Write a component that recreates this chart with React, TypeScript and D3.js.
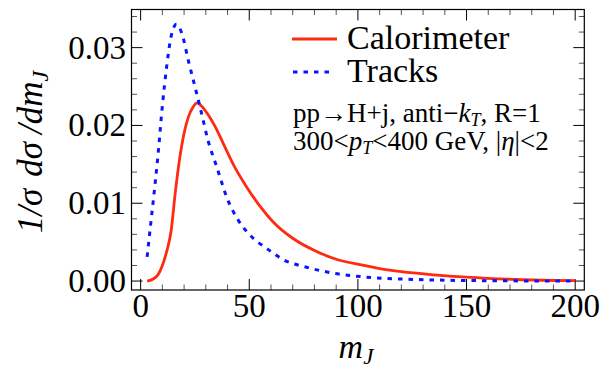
import React from "react";
import * as d3 from "d3";

const calM = [3, 6, 8, 10, 12, 14, 16, 18, 20, 22, 24, 26, 28, 31, 34, 38, 43, 49, 55, 61, 70, 81, 90, 101, 110, 120, 135, 150, 173, 200];
const calV = [0.0, 0.0003, 0.0008, 0.002, 0.0038, 0.0064, 0.0115, 0.0158, 0.019, 0.0211, 0.0223, 0.0229, 0.0225, 0.0214, 0.02, 0.0177, 0.0148, 0.012, 0.0096, 0.0076, 0.0055, 0.0038, 0.0028, 0.0021, 0.0016, 0.0012, 0.0008, 0.0005, 0.0002, 0.00005];

const trkM = [3, 4.5, 6, 8, 10, 12, 14, 16.5, 19, 22, 25, 28, 31, 35, 40, 45, 50, 58, 66, 76, 89, 104, 127, 157, 200];
const trkV = [0.0031, 0.007, 0.0108, 0.0162, 0.0225, 0.0276, 0.0314, 0.033, 0.0318, 0.0283, 0.025, 0.0216, 0.0181, 0.0147, 0.0105, 0.0078, 0.006, 0.0042, 0.0027, 0.0018, 0.001, 0.0005, 0.0002, 0.00005, 0.0];

const xMajor = [0, 50, 100, 150, 200];
const xMajorLabels = ["0", "50", "100", "150", "200"];
const yMajor = [0, 0.01, 0.02, 0.03];
const yMajorLabels = ["0.00", "0.01", "0.02", "0.03"];
const seriesNames = ["Calorimeter", "Tracks"];

export default function App() {
  const W = 616, H = 373;
  const L = 131.5, R = 584.3, T = 9.5, B = 290;
  const x = d3.scaleLinear().domain([-4.2, 204.2]).range([L, R]);
  const y = d3.scaleLinear().domain([-0.00115, 0.0349]).range([B, T]);

  const mk = (ms: number[], vs: number[]) =>
    d3
      .line<[number, number]>()
      .x((d) => x(d[0]))
      .y((d) => y(d[1]))
      .curve(d3.curveMonotoneX)(ms.map((m, i) => [m, vs[i]] as [number, number])) || "";
  const calPath = mk(calM, calV);
  const trkPath = mk(trkM, trkV);

  const xMinor = d3.range(0, 201, 10).filter((v) => v % 50 !== 0);
  const yMinor = d3
    .range(0, 35)
    .filter((k) => k % 5 !== 0 && k % 2 === 0)
    .map((k) => k / 1000);
  const majLen = 11, minLen = 5.5;
  const font = "Liberation Serif, Times New Roman, serif";

  return (
    <svg
      width={W}
      height={H}
      style={{ position: "absolute", left: 0, top: 0, background: "#fff", fontFamily: font }}
    >
      <defs>
        <clipPath id="plot">
          <rect x={L} y={T} width={R - L} height={B - T} />
        </clipPath>
      </defs>
      <g stroke="#000" strokeWidth={1}>
        {xMajor.map((v) => (
          <g key={"xm" + v}>
            <line x1={x(v)} x2={x(v)} y1={B} y2={B - majLen} />
            <line x1={x(v)} x2={x(v)} y1={T} y2={T + majLen} />
          </g>
        ))}
        {xMinor.map((v) => (
          <g key={"xn" + v} stroke="#555">
            <line x1={x(v)} x2={x(v)} y1={B} y2={B - minLen} />
            <line x1={x(v)} x2={x(v)} y1={T} y2={T + minLen} />
          </g>
        ))}
        {yMajor.map((v) => (
          <g key={"ym" + v}>
            <line x1={L} x2={L + majLen} y1={y(v)} y2={y(v)} />
            <line x1={R} x2={R - majLen} y1={y(v)} y2={y(v)} />
          </g>
        ))}
        {yMinor.map((v) => (
          <g key={"yn" + v} stroke="#555">
            <line x1={L} x2={L + minLen} y1={y(v)} y2={y(v)} />
            <line x1={R} x2={R - minLen} y1={y(v)} y2={y(v)} />
          </g>
        ))}
      </g>
      <g clipPath="url(#plot)" fill="none">
        <path d={calPath} stroke="#ff2a12" strokeWidth={2.8} />
        <path d={trkPath} stroke="#0a14ff" strokeWidth={3} strokeDasharray="4.5 6" />
      </g>
      <rect x={L} y={T} width={R - L} height={B - T} fill="none" stroke="#000" strokeWidth={1.2} />
      <g fontSize={33} fill="#000" style={{ fontFamily: font }}>
        {xMajor.map((v, i) => (
          <text key={"xl" + v} x={x(v)} y={317} textAnchor="middle">
            {xMajorLabels[i]}
          </text>
        ))}
        {yMajor.map((v, i) => (
          <text key={"yl" + v} x={126} y={y(v) + 11} textAnchor="end">
            {yMajorLabels[i]}
          </text>
        ))}
      </g>
      <text x={356} y={358} textAnchor="middle" fontSize={34} fontStyle="italic" style={{ fontFamily: font }}>
        m
        <tspan fontSize={23} dy={6}>J</tspan>
      </text>
      <text
        transform="translate(42,152) rotate(-90)"
        textAnchor="middle"
        fontSize={35}
        fontStyle="italic"
        style={{ fontFamily: font }}
      >
        <tspan>1/σ</tspan>
        <tspan dx={12}>dσ</tspan>
        <tspan dx={8}>/dm</tspan>
        <tspan fontSize={24} dy={6}>J</tspan>
      </text>
      <line x1={292} x2={337} y1={39} y2={39} stroke="#ff2a12" strokeWidth={2.8} />
      <line x1={293} x2={330} y1={72} y2={72} stroke="#0a14ff" strokeWidth={3} strokeDasharray="4.5 6" />
      <g fontSize={34} style={{ fontFamily: font }}>
        <text x={347} y={49}>{seriesNames[0]}</text>
        <text x={347} y={82}>{seriesNames[1]}</text>
      </g>
      <g fontSize={27} style={{ fontFamily: font }}>
        <text x={293} y={122}>
          pp→H+j, anti−<tspan fontStyle="italic">k</tspan>
          <tspan fontStyle="italic" fontSize={18} dy={4}>T</tspan>
          <tspan dy={-4}>, R=1</tspan>
        </text>
        <text x={293} y={150}>
          300&lt;<tspan fontStyle="italic">p</tspan>
          <tspan fontStyle="italic" fontSize={18} dy={4}>T</tspan>
          <tspan dy={-4}>&lt;400 GeV, |</tspan>
          <tspan fontStyle="italic">η</tspan>|&lt;2
        </text>
      </g>
    </svg>
  );
}
